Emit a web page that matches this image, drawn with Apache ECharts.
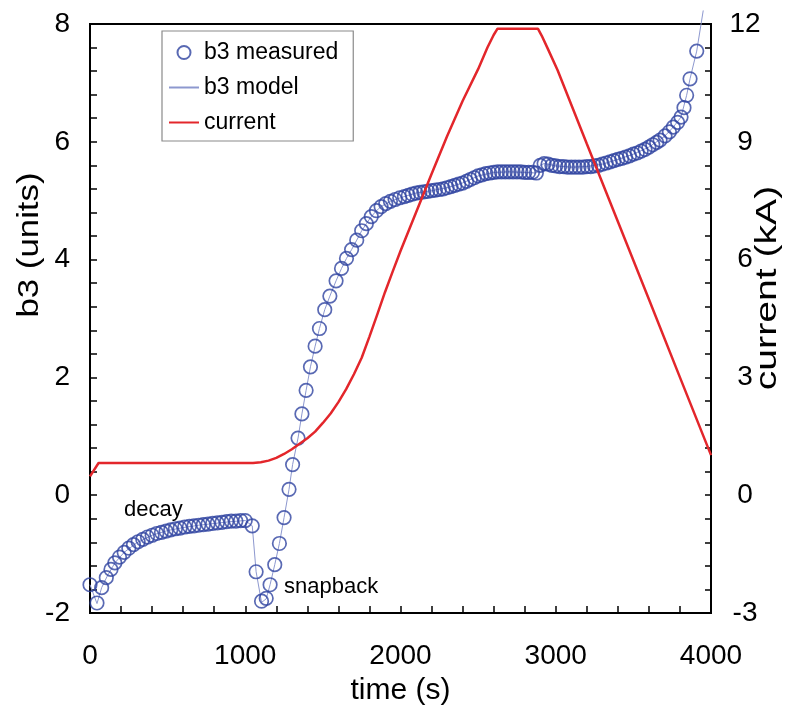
<!DOCTYPE html>
<html><head><meta charset="utf-8">
<script src="https://cdn.jsdelivr.net/npm/echarts@6/dist/echarts.min.js"></script>
<style>html,body{margin:0;padding:0;background:#fff}#c{width:786px;height:707px}</style>
</head><body><div id="c"></div>
<script>
// ---- data ----
const measuredTime = [0,45,75,105,135,160,190,220,250,280,310,340,370,400,430,460,490,520,550,580,610,640,670,700,730,760,790,820,850,880,910,940,970,1000,1045,
  1070,1105,1135,1160,1190,1220,1250,1282,1305,1340,1365,1392,1420,1450,1478,1512,1545,1585,1620,1652,1685,1718,1750,1780,1812,1845,1875,1905,1935,1965,1995,
  2025,2050,2075,2100,2125,2150,2175,2200,2225,2250,2275,2300,2325,2350,2375,2400,2425,2450,2475,2500,2525,2550,2575,2600,2625,2650,2675,2700,2725,2750,2775,2800,2825,2850,2875,
  2900,2925,2950,2975,3000,3025,3050,3075,3100,3125,3150,3175,3200,3225,3250,3275,3300,3325,3350,3375,3400,3425,3450,3475,3500,3525,3550,3575,3600,3625,3650,
  3672,3704,3732,3757,3785,3807,3826,3843,3865,3908];
const measuredB3 = [-1.52,-1.83,-1.57,-1.40,-1.26,-1.15,-1.05,-0.97,-0.90,-0.84,-0.79,-0.75,-0.71,-0.68,-0.65,-0.63,-0.61,-0.59,-0.57,-0.56,-0.54,-0.53,-0.52,-0.51,-0.50,-0.49,-0.48,-0.47,-0.46,-0.45,-0.44,-0.44,-0.43,-0.43,-0.52,
  -1.30,-1.80,-1.75,-1.52,-1.18,-0.82,-0.38,0.10,0.52,0.97,1.38,1.78,2.18,2.53,2.83,3.15,3.38,3.64,3.85,4.02,4.17,4.33,4.49,4.61,4.73,4.83,4.90,4.95,4.99,5.02,5.05,
  5.07,5.09,5.11,5.13,5.14,5.15,5.16,5.17,5.18,5.19,5.20,5.22,5.24,5.26,5.28,5.30,5.33,5.36,5.39,5.42,5.44,5.46,5.47,5.48,5.49,5.49,5.49,5.49,5.49,5.49,5.49,5.48,5.48,5.48,5.47,
  5.60,5.63,5.62,5.60,5.59,5.58,5.58,5.57,5.57,5.57,5.57,5.57,5.58,5.58,5.59,5.60,5.62,5.64,5.66,5.68,5.70,5.72,5.74,5.76,5.79,5.81,5.84,5.87,5.91,5.95,5.99,
  6.03,6.10,6.17,6.25,6.33,6.42,6.58,6.79,7.07,7.54];

const modelTime = [0,45,75,110,160,220,300,400,500,600,700,800,900,1000,1045,1070,1105,1135,1160,1190,1220,1250,1282,1305,1340,1365,1392,1420,1450,1478,1512,1545,1585,1620,1652,1685,1718,1750,1780,1812,1845,1875,1935,2000,2100,2200,2300,2400,2500,2600,2700,2800,2875,2900,2925,2950,3000,3100,3200,3300,3400,3500,3600,3700,3757,3807,3843,3865,3908,3950];
const modelB3 = [-1.52,-1.84,-1.57,-1.38,-1.15,-0.97,-0.81,-0.68,-0.60,-0.55,-0.51,-0.48,-0.45,-0.43,-0.52,-1.30,-1.82,-1.76,-1.52,-1.18,-0.82,-0.38,0.10,0.52,0.97,1.38,1.78,2.18,2.53,2.83,3.15,3.38,3.64,3.85,4.02,4.17,4.33,4.49,4.61,4.73,4.83,4.90,4.99,5.05,5.13,5.17,5.22,5.30,5.42,5.48,5.49,5.48,5.47,5.60,5.63,5.62,5.59,5.57,5.58,5.62,5.70,5.79,5.91,6.09,6.25,6.42,6.79,7.07,7.54,8.23];

const currentTime = [0,55,1050,1100,1150,1200,1250,1300,1350,1400,1450,1500,1550,1600,1650,1700,1750,1800,1850,1900,1950,2000,2100,2200,2300,2400,2500,2560,2600,2625,2885,2910,2950,3012,3200,3400,3600,3800,4000];
const currentKA = [0.48,0.82,0.82,0.84,0.88,0.95,1.05,1.17,1.31,1.45,1.62,1.84,2.08,2.37,2.70,3.08,3.50,4.04,4.60,5.17,5.70,6.22,7.20,8.18,9.14,10.04,10.85,11.40,11.72,11.88,11.88,11.70,11.36,10.82,8.95,6.97,4.99,3.00,1.02];

const timeTicks = [0,1000,2000,3000,4000];
const b3Ticks = [-2,0,2,4,6,8];
const kATicks = [-3,0,3,6,9,12];

const zip = (a,b) => a.map((v,i)=>[v,b[i]]);
const FONT = 'Liberation Sans, Arial, sans-serif';
const tickStyle = {color:'#000', width:1.5};
const BLUE = '#2f44a0';

const chart = echarts.init(document.getElementById('c'), null, {renderer:'canvas'});
chart.setOption({
  backgroundColor:'#fff',
  animation:false,
  textStyle:{fontFamily:FONT},
  grid:{left:90, right:75, top:24, bottom:94, containLabel:false, outerBoundsMode:'none',
        show:true, borderColor:'#000', borderWidth:2, backgroundColor:'transparent'},
  legend:{
    orient:'vertical', left:162, top:31,
    backgroundColor:'#fff', borderColor:'#8a8a8a', borderWidth:1.2, borderRadius:0,
    padding:[10,15,7,6], itemGap:12, itemWidth:30, itemHeight:13,
    textStyle:{fontSize:23, color:'#000', fontFamily:FONT},
    data:[
      {name:'b3 measured'},
      {name:'b3 model', itemStyle:{opacity:0}},
      {name:'current', itemStyle:{opacity:0}}
    ]
  },
  xAxis:{
    type:'value', min:timeTicks[0], max:timeTicks[timeTicks.length-1], interval:timeTicks[1]-timeTicks[0],
    axisLine:{onZero:false, lineStyle:{color:'#000', width:2}},
    axisTick:{inside:true, length:7, lineStyle:tickStyle},
    minorTick:{show:true, splitNumber:5, length:7, lineStyle:tickStyle},
    splitLine:{show:false},
    axisLabel:{fontSize:28, color:'#000', margin:29, fontFamily:FONT, formatter:(v)=>String(v)},
    name:'time (s)', nameLocation:'middle', nameGap:63,
    nameTextStyle:{fontSize:30, color:'#000', fontFamily:FONT}
  },
  yAxis:[{
    type:'value', position:'left', min:b3Ticks[0], max:b3Ticks[b3Ticks.length-1], interval:b3Ticks[1]-b3Ticks[0],
    axisLine:{show:true, onZero:false, lineStyle:{color:'#000', width:2}},
    axisTick:{show:true, inside:true, length:7, lineStyle:tickStyle},
    minorTick:{show:true, splitNumber:5, length:7, lineStyle:tickStyle},
    splitLine:{show:false},
    axisLabel:{fontSize:28, color:'#000', margin:20, fontFamily:FONT, formatter:(v)=>String(v)}
  },{
    type:'value', position:'right', min:kATicks[0], max:kATicks[kATicks.length-1], interval:kATicks[1]-kATicks[0],
    axisLine:{show:true, onZero:false, lineStyle:{color:'#000', width:2}},
    axisTick:{show:true, inside:true, length:6, lineStyle:tickStyle},
    minorTick:{show:true, splitNumber:5, length:6, lineStyle:tickStyle},
    splitLine:{show:false},
    axisLabel:{fontSize:28, color:'#000', margin:34, align:'center', fontFamily:FONT, formatter:(v)=>String(v)}
  }],
  graphic:[
    {type:'text', x:30, y:245, rotation:Math.PI/2, scaleX:1.2, style:{text:'b3 (units)', font:'29px '+FONT, fill:'#000', textAlign:'center', textVerticalAlign:'middle'}},
    {type:'text', x:768, y:288, rotation:Math.PI/2, scaleX:1.35, style:{text:'current (kA)', font:'29px '+FONT, fill:'#000', textAlign:'center', textVerticalAlign:'middle'}},
    {type:'text', x:124, y:510, style:{text:'decay', font:'22px '+FONT, fill:'#000', textAlign:'left', textVerticalAlign:'middle'}},
    {type:'text', x:284, y:587, style:{text:'snapback', font:'22px '+FONT, fill:'#000', textAlign:'left', textVerticalAlign:'middle'}}
  ],
  series:[
    {name:'b3 model', type:'line', yAxisIndex:0, data:zip(modelTime, modelB3), symbol:'none', clip:false,
     lineStyle:{color:'#8d98cf', width:1}, itemStyle:{color:'#8d98cf'}, z:2},
    {name:'b3 measured', type:'scatter', yAxisIndex:0, data:zip(measuredTime, measuredB3), symbol:'circle', symbolSize:13.5,
     itemStyle:{color:'rgba(255,255,255,0)', borderColor:BLUE, borderWidth:1.7}, z:3},
    {name:'current', type:'line', yAxisIndex:1, data:zip(currentTime, currentKA), symbol:'none',
     lineStyle:{color:'#e3262b', width:2.5}, itemStyle:{color:'#e3262b'}, z:4}
  ]
});
</script></body></html>
